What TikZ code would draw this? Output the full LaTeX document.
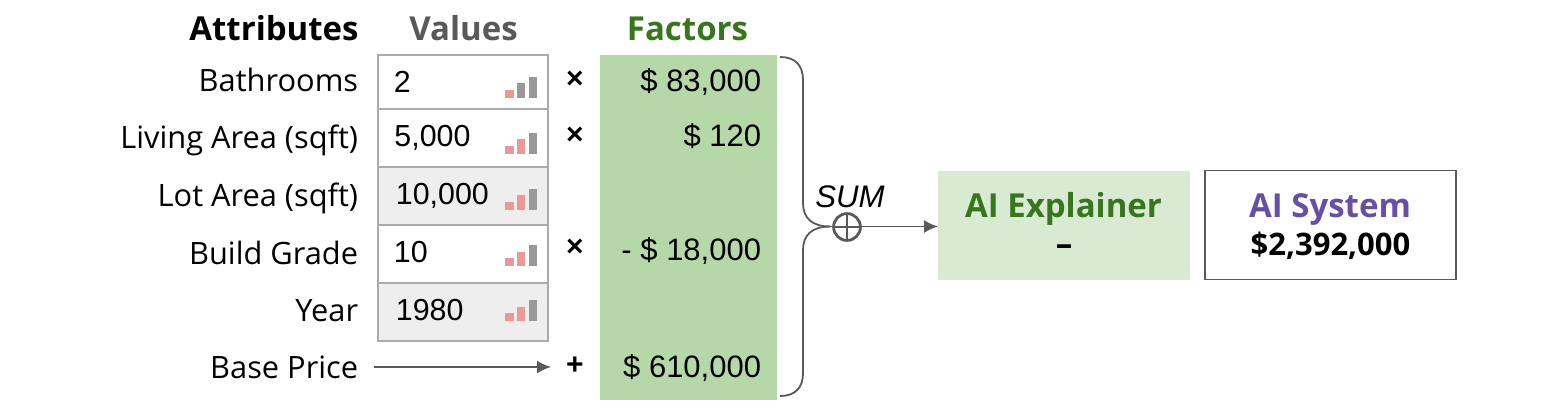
\documentclass[tikz,border=0pt]{standalone}
\usepackage{fontspec}
\setmainfont{Open Sans}
\newfontfamily\valuefont{Liberation Sans}
\usetikzlibrary{arrows.meta}
\definecolor{factorgreen}{HTML}{B6D7A8}
\definecolor{explainbg}{HTML}{D9EAD3}
\definecolor{darkgreen}{HTML}{38761D}
\definecolor{sysviolet}{HTML}{674EA7}
\definecolor{headgray}{HTML}{595959}
\definecolor{linegray}{HTML}{595959}
\definecolor{cellgray}{HTML}{EEEEEE}
\definecolor{cellline}{HTML}{ABABAB}
\definecolor{barpink}{HTML}{EA9999}
\definecolor{bargray}{HTML}{999999}
\tikzset{
  attr/.style={anchor=base east,inner sep=0pt,font=\fontsize{15.4}{18}\selectfont},
  head/.style={anchor=base,inner sep=0pt,font=\fontsize{16.5}{20}\selectfont\bfseries},
  cell/.style={draw=cellline,line width=1pt,minimum width=85pt,anchor=north west,inner sep=0pt},
  val/.style={anchor=base west,inner sep=0pt,font=\fontsize{15.2}{18}\selectfont\valuefont},
  factor/.style={anchor=base east,inner sep=0pt,font=\fontsize{15.5}{18}\selectfont\valuefont},
  op/.style={inner sep=0pt,font=\fontsize{15}{18}\selectfont\valuefont\bfseries},
  conn/.style={draw=linegray,line width=0.9pt},
  tip/.style={-{Latex[length=7pt,width=6.5pt]}}
}
\begin{document}
\begin{tikzpicture}[x=0.5pt,y=-0.5pt]
  \useasboundingbox (0,0) rectangle (1560,409);

  % factor column
  \node[fill=factorgreen,minimum width=88.5pt,minimum height=172.5pt,inner sep=0pt,anchor=north west] (factors) at (600,55) {};

  % headers
  \node[head] (hattr) at (274,40) {Attributes};
  \node[head,text=headgray] (hval) at (463.5,40) {Values};
  \node[head,text=darkgreen] (hfac) at (687.5,40) {Factors};

  % value cells: name / top / height / fill / text
  \foreach \name/\celltop/\cellh/\col/\txt/\base/\lx in {
    a/54.3/26.7pt/white/2/92/393.5,
    b/107.7/29pt/white/{5,000}/146/394,
    c/165.7/29.15pt/cellgray/{10,000}/204/395.5,
    d/224/29pt/white/10/262/393.5,
    e/282/29pt/cellgray/1980/320/395.5}{
    \node[cell,fill=\col,minimum height=\cellh] (cell\name) at (377,\celltop) {};
    \node[val] (val\name) at (\lx,\base) {\txt};
  }

  % signal bars: bottom / colour of the middle bar
  \foreach \base/\midcol in {97.5/bargray,153.5/barpink,209.5/barpink,266/barpink,321/barpink}{
    \fill[barpink] (505,\base) rectangle (513.5,\base-8);
    \fill[\midcol] (517,\base) rectangle (525,\base-14.5);
    \fill[bargray] (528.5,\base) rectangle (536.5,\base-21);
  }

  % attribute names
  \node[attr] (bath) at (358.5,91) {Bathrooms};
  \node[attr] (area) at (358.5,148) {Living Area (sqft)};
  \node[attr] (lot) at (358.5,206) {Lot Area (sqft)};
  \node[attr] (grade) at (358.5,264) {Build Grade};
  \node[attr] (year) at (358.5,321) {Year};
  \node[attr] (base) at (358.5,378) {Base Price};

  % operators
  \node[op] (op1) at (575,80) {×};
  \node[op] (op2) at (575,136) {×};
  \node[op] (op3) at (575,248) {×};
  \node[op] (op4) at (575,366) {+};

  % factors
  \node[factor] (f1) at (761.5,91) {\$ 83,000};
  \node[factor] (f2) at (761.5,146) {\$ 120};
  \node[factor] (f3) at (761.5,260) {- \$ 18,000};
  \node[factor] (f4) at (761.5,377) {\$ 610,000};

  % base price arrow
  \coordinate (basestart) at (374,367);
  \coordinate (baseend) at (551,367);
  \draw[conn,tip] (basestart) -- (baseend);

  % brace
  \coordinate (bracetop) at (780,57);
  \coordinate (bracebot) at (780,396);
  \coordinate (bracemid) at (830,226.5);
  \node[fill=explainbg,minimum width=126pt,minimum height=54.5pt,inner sep=0pt,anchor=north west] (expl) at (938,171) {};
  \draw[conn] (bracetop) .. controls (795,57) and (803,65) .. (803,80) -- (803,203) .. controls (803,218) and (812,226.5) .. (bracemid);
  \draw[conn] (bracebot) .. controls (795,396) and (803,388) .. (803,373) -- (803,250) .. controls (803,235) and (812,226.5) .. (bracemid);
  \draw[conn,tip] (bracemid) -- (expl.west |- bracemid);
  \node[circle,draw=linegray,line width=1.4pt,minimum size=13.4pt,inner sep=0pt,path picture={
    \draw[linegray,line width=1.3pt] (path picture bounding box.north) -- (path picture bounding box.south)
      (path picture bounding box.west) -- (path picture bounding box.east);}] (plus) at (847,227) {};
  \node[inner sep=0pt,anchor=base,font=\fontsize{15.6}{18}\selectfont\valuefont\itshape] (sum) at (850,207) {SUM};

  % boxes
  \node[head,text=darkgreen] (expltxt) at (1063.5,217) {AI Explainer};
  \node[head,text=black] (expldash) at (1064,255) {–};
  \node[draw=linegray,line width=0.8pt,minimum width=125.5pt,minimum height=54.5pt,inner sep=0pt,anchor=north west] (sys) at (1204.3,169.5) {};
  \node[head,text=sysviolet] (systxt) at (1330,217) {AI System};
  \node[head,font=\fontsize{15.5}{18}\selectfont\bfseries] (sysval) at (1330.5,255) {\$2,392,000};
\end{tikzpicture}
\end{document}
